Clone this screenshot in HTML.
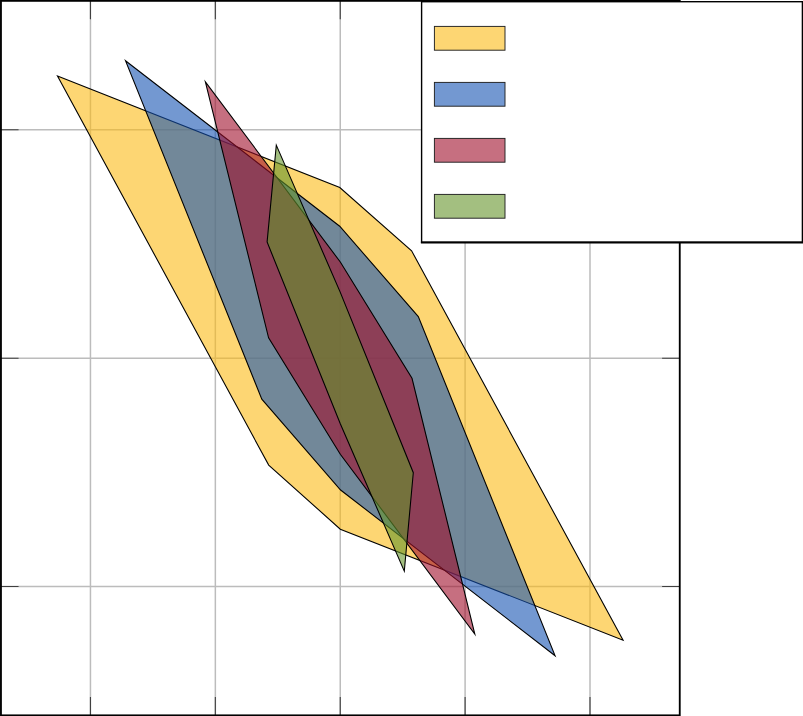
<!DOCTYPE html>
<html><head><meta charset="utf-8"><title>plot</title>
<style>html,body{margin:0;padding:0;background:#fff;overflow:hidden}svg{display:block}</style></head>
<body>
<svg width="803" height="716" viewBox="0 0 803 716">
<rect width="803" height="716" fill="#fff"/>
<path d="M90.45,0.85V715.35M215.35,0.85V715.35M340.25,0.85V715.35M465.1,0.85V715.35M590.0,0.85V715.35M0.95,129.7H679.7M0.95,358.25H679.7M0.95,586.5H679.7" stroke="#bcbcbc" stroke-width="1.5" fill="none"/>
<polygon points="57.5,76.0 339.8,187.5 411.6,250.8 623.1,640.2 340.3,529.2 268.7,465.1" fill="#fcbb16" fill-opacity="0.6" stroke="#000" stroke-width="1.08" stroke-linejoin="miter" stroke-miterlimit="10"/>
<polygon points="125.5,60.7 339.7,226.2 418.3,316.6 555.1,655.8 340.6,490.0 261.8,399.1" fill="#1653b2" fill-opacity="0.6" stroke="#000" stroke-width="1.08" stroke-linejoin="miter" stroke-miterlimit="10"/>
<polygon points="205.4,81.9 340.3,262.0 412.0,378.3 474.8,634.0 340.3,454.2 268.6,337.9" fill="#a00f2b" fill-opacity="0.6" stroke="#000" stroke-width="1.08" stroke-linejoin="miter" stroke-miterlimit="10"/>
<polygon points="276.3,145.1 340.3,292.4 413.3,472.7 404.3,571.1 340.3,423.8 267.1,242.0" fill="#66942b" fill-opacity="0.6" stroke="#000" stroke-width="1.08" stroke-linejoin="miter" stroke-miterlimit="10"/>
<path d="M90.45,0.85v18.4M90.45,715.35v-18.4M215.35,0.85v18.4M215.35,715.35v-18.4M340.25,0.85v18.4M340.25,715.35v-18.4M465.1,0.85v18.4M465.1,715.35v-18.4M590.0,0.85v18.4M590.0,715.35v-18.4M0.95,129.7h17.6M679.7,129.7h-17.6M0.95,358.25h17.6M679.7,358.25h-17.6M0.95,586.5h17.6M679.7,586.5h-17.6" stroke="#404040" stroke-width="1.1" fill="none"/>
<rect x="0.95" y="0.85" width="678.8" height="714.5" fill="none" stroke="#000" stroke-width="1.85"/>
<rect x="421.6" y="1.7" width="380.8" height="240.6" fill="#fff" stroke="#000" stroke-width="1.4"/>
<path d="M420.9,242.5H803.1" stroke="#000" stroke-width="1.8" fill="none"/>
<rect x="434.4" y="26.4" width="70.6" height="23.8" fill="#fcbb16" fill-opacity="0.6" stroke="#222" stroke-width="0.95"/>
<rect x="434.4" y="82.4" width="70.6" height="23.8" fill="#1653b2" fill-opacity="0.6" stroke="#222" stroke-width="0.95"/>
<rect x="434.4" y="138.4" width="70.6" height="23.8" fill="#a00f2b" fill-opacity="0.6" stroke="#222" stroke-width="0.95"/>
<rect x="434.4" y="194.4" width="70.6" height="23.8" fill="#66942b" fill-opacity="0.6" stroke="#222" stroke-width="0.95"/>
</svg>
</body></html>
